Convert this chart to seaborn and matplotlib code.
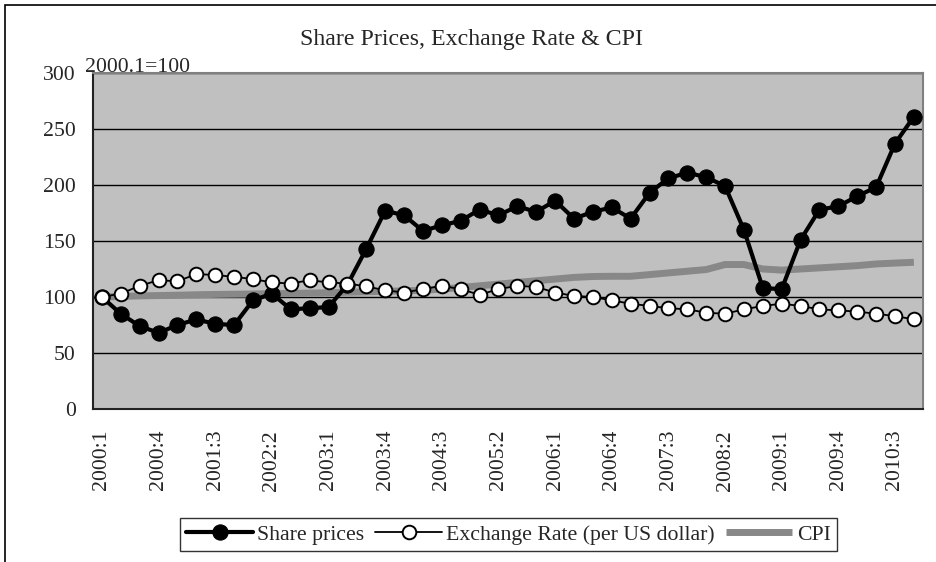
import numpy as np
import pandas as pd
import matplotlib
matplotlib.use("Agg")
import matplotlib.pyplot as plt
import seaborn as sns
from matplotlib.patches import Rectangle

quarters = ["2000:1", "2000:2", "2000:3", "2000:4", "2001:1", "2001:2", "2001:3", "2001:4",
            "2002:1", "2002:2", "2002:3", "2002:4", "2003:1", "2003:2", "2003:3", "2003:4",
            "2004:1", "2004:2", "2004:3", "2004:4", "2005:1", "2005:2", "2005:3", "2005:4",
            "2006:1", "2006:2", "2006:3", "2006:4", "2007:1", "2007:2", "2007:3", "2007:4",
            "2008:1", "2008:2", "2008:3", "2008:4", "2009:1", "2009:2", "2009:3", "2009:4",
            "2010:1", "2010:2", "2010:3", "2010:4"]

share_prices = [100, 85, 74, 68, 75, 80, 76, 75, 97, 103, 89, 90, 91, 111, 143, 177,
                173, 159, 164, 168, 178, 173, 181, 176, 186, 170, 176, 180, 170, 193,
                206, 211, 207, 199, 160, 108, 107, 151, 178, 181, 190, 198, 237, 261]

exchange_rate = [100, 103, 110, 115, 114, 120.5, 119.6, 118, 116, 113, 112, 115, 113, 112,
                 109.5, 106, 104, 107, 110, 107, 102, 107, 110, 109, 104, 101, 100, 97, 94,
                 92, 90, 89, 86, 85, 89, 92, 94, 92, 89, 88, 87, 85, 83, 80]

cpi = [100, 100.5, 101, 101.3, 101.6, 102, 102.3, 102.5, 102.7, 103, 103.2, 103.5, 103.8,
       104.2, 104.6, 105, 105.5, 106, 107, 108.5, 110, 111.5, 113, 114.5, 116, 117.5,
       118.3, 118.5, 118.5, 120, 121.5, 123, 124.5, 129, 129, 125, 124, 125, 126, 127,
       128, 129.5, 130.3, 131]

label_every = 3

sns.set_style("white")
plt.rcParams["font.family"] = ["Liberation Serif", "DejaVu Serif"]

FS = 15.7

df = pd.DataFrame({"pos": np.arange(len(quarters)), "quarter": quarters,
                   "Share prices": share_prices,
                   "Exchange Rate (per US dollar)": exchange_rate,
                   "CPI": cpi})

fig = plt.figure(figsize=(9.36, 5.62), dpi=100)
ax = fig.add_axes([92.5 / 936, 1 - 409 / 562, (923.3 - 92.5) / 936, (409 - 73) / 562])
ax.set_facecolor("#C0C0C0")

sns.lineplot(data=df, x="pos", y="CPI", ax=ax, color="#888888", lw=5,
             solid_capstyle="butt", label="CPI", zorder=2)
sns.lineplot(data=df, x="pos", y="Share prices", ax=ax, color="black", lw=3.0,
             marker="o", markersize=11, markerfacecolor="black",
             markeredgecolor="black", label="Share prices", zorder=3)
sns.lineplot(data=df, x="pos", y="Exchange Rate (per US dollar)", ax=ax, color="black",
             lw=1.3, marker="o", markersize=9.8, markerfacecolor="white",
             markeredgecolor="black", markeredgewidth=1.4,
             label="Exchange Rate (per US dollar)", zorder=4)

ax.set_xlim(-0.5, len(quarters) - 0.5)
ax.set_ylim(0, 300)
ax.set_yticks(np.arange(0, 301, 50))
ax.yaxis.grid(True, color="black", lw=1.0)
ax.set_axisbelow(True)

major = np.arange(0, len(quarters), label_every)
ax.set_xticks(major)
ax.set_xticklabels([quarters[i] for i in major], rotation=90, fontsize=FS)
ax.set_xticks(np.arange(-0.5, len(quarters), 1), minor=True)
ax.tick_params(axis="x", which="major", length=0, pad=15)
ax.tick_params(axis="x", which="minor", direction="in", length=5, width=1, color="black")
ax.tick_params(axis="y", length=0, pad=12, labelsize=FS)
ax.set_xlabel("")
ax.set_ylabel("")

for s in ["left", "bottom"]:
    ax.spines[s].set_color("#222222")
    ax.spines[s].set_linewidth(1.5)
for s in ["top", "right"]:
    ax.spines[s].set_color("#808080")
    ax.spines[s].set_linewidth(1.5)

handles, labels = ax.get_legend_handles_labels()
order = ["Share prices", "Exchange Rate (per US dollar)", "CPI"]
hmap = dict(zip(labels, handles))
ax.get_legend().remove()
leg = fig.legend([hmap[k] for k in order], order, loc="center",
                 bbox_to_anchor=((178 + 839) / 2 / 936, 1 - 534.5 / 562),
                 ncol=3, fontsize=FS, frameon=True, fancybox=False, shadow=False,
                 handlelength=3.05, handletextpad=0.2, columnspacing=0.5,
                 borderpad=0.3, borderaxespad=0)
leg.get_frame().set_edgecolor("black")
leg.get_frame().set_linewidth(1.0)

fig.text(472 / 936, 1 - 40 / 562, "Share Prices, Exchange Rate & CPI",
         ha="center", va="center", fontsize=17.2)
fig.text(85 / 936, 1 - 72 / 562, "2000.1=100", ha="left", va="baseline", fontsize=FS)

top = 1 - 5 / 562
fig.add_artist(Rectangle((5 / 936, -0.2), 1.2, top + 0.2, transform=fig.transFigure,
                         fill=False, edgecolor="black", lw=1.2, clip_on=False))

fig.savefig("out.png", dpi=100)
